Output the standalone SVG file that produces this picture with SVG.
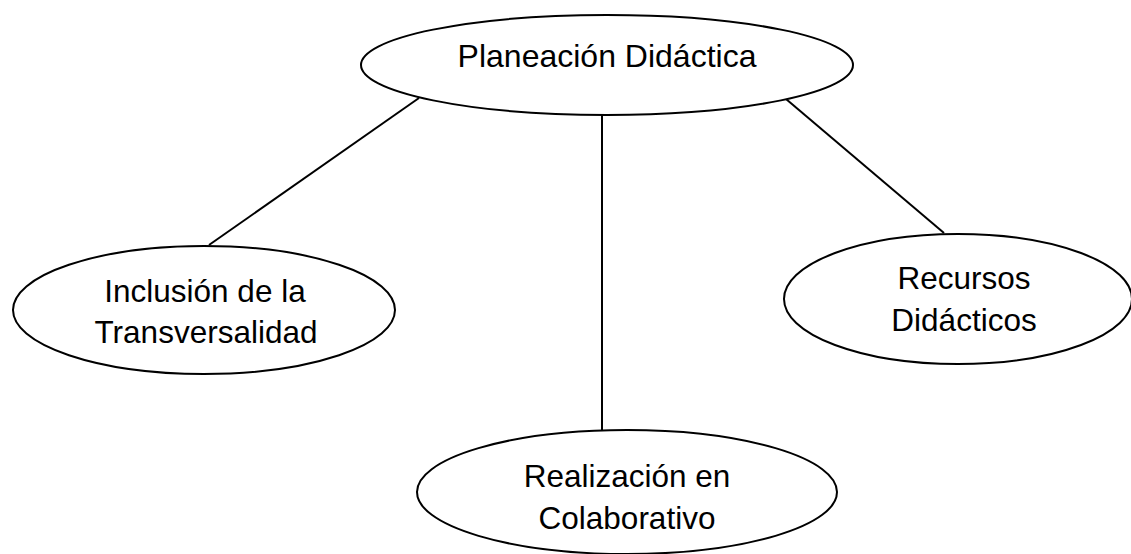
<svg xmlns="http://www.w3.org/2000/svg" width="1131" height="554" viewBox="0 0 1131 554">
  <style>
    .node ellipse { fill: #ffffff; stroke: #000000; stroke-width: 2; }
    .node text { font-family: "Liberation Sans", Arial, sans-serif; font-size: 31.5px; fill: #000000; text-anchor: middle; }
    .links line { stroke: #000000; stroke-width: 2; }
  </style>
  <rect width="1131" height="554" fill="#ffffff"/>

  <!-- connectors from the central node -->
  <g id="connectors" class="links">
    <line x1="419" y1="98" x2="209" y2="245"/>
    <line x1="602" y1="115" x2="602" y2="430"/>
    <line x1="786" y1="99" x2="944" y2="233"/>
  </g>

  <g id="node-planeacion" class="node">
    <ellipse cx="607" cy="65" rx="246" ry="50"/>
    <text x="607" y="67" style="font-size:32px">Planeación Didáctica</text>
  </g>

  <g id="node-transversalidad" class="node">
    <ellipse cx="204" cy="310" rx="191" ry="64"/>
    <text x="205" y="302">Inclusión de la</text>
    <text x="206" y="343">Transversalidad</text>
  </g>

  <g id="node-recursos" class="node">
    <ellipse cx="958" cy="299" rx="174" ry="65"/>
    <text x="964" y="289">Recursos</text>
    <text x="964" y="331">Didácticos</text>
  </g>

  <g id="node-colaborativo" class="node">
    <ellipse cx="627" cy="492" rx="210" ry="62"/>
    <text x="627" y="487">Realización en</text>
    <text x="627" y="529">Colaborativo</text>
  </g>
</svg>
